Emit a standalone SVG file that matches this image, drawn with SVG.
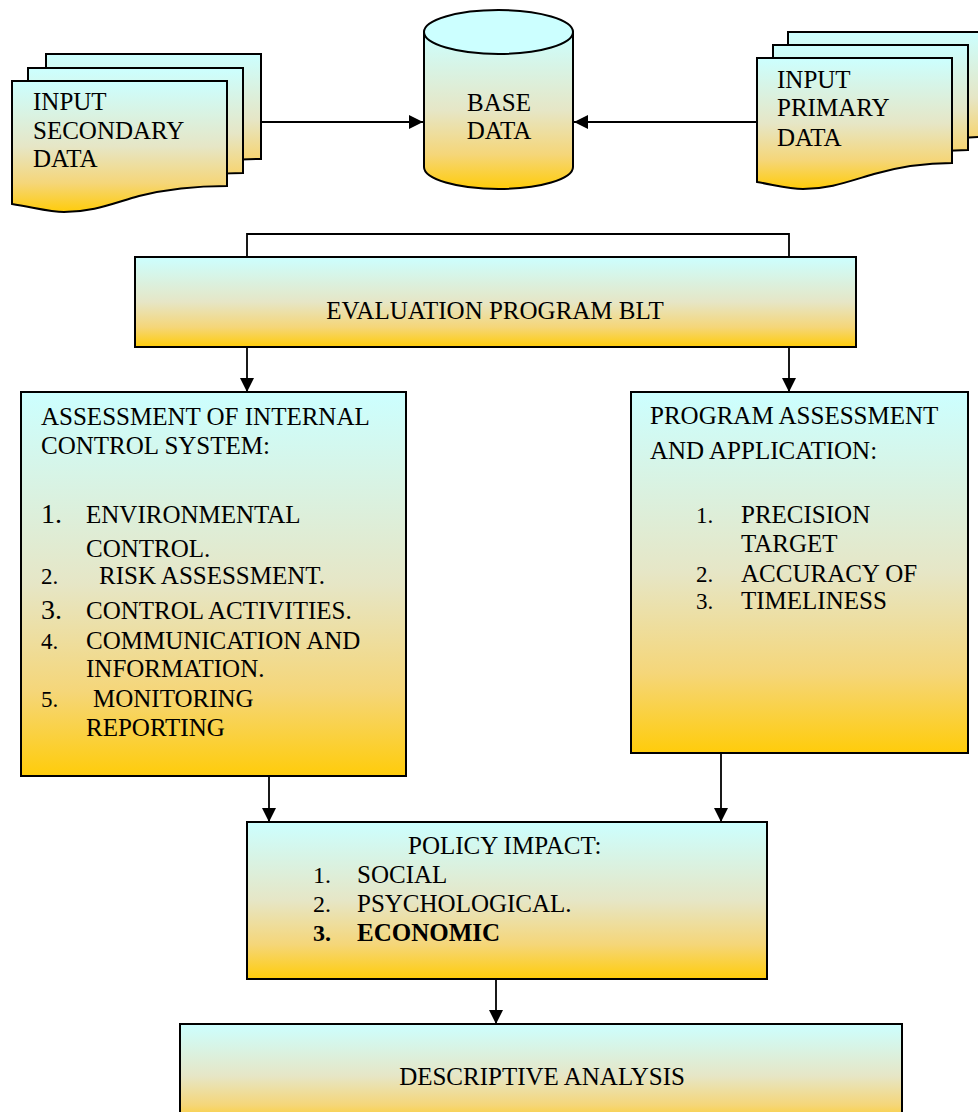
<svg xmlns="http://www.w3.org/2000/svg" width="978" height="1112" viewBox="0 0 978 1112">
<defs>
  <linearGradient id="g" x1="0" y1="0" x2="0" y2="1">
    <stop offset="0" stop-color="#CCFFFF"/>
    <stop offset="0.5" stop-color="#E6E6C6"/>
    <stop offset="0.78" stop-color="#F5D679"/>
    <stop offset="1" stop-color="#FFCC0A"/>
  </linearGradient>
  <marker id="ah" markerUnits="userSpaceOnUse" markerWidth="14" markerHeight="14" refX="14" refY="7" orient="auto">
    <path d="M0,0 L14,7 L0,14 z" fill="#000"/>
  </marker>
  <path id="docS" d="M0,0 H215 V105 C189,105 159,107 127,115 C99,123 81,131 52,131 C38,131 20,126 0,123 Z"/>
  <path id="docP" d="M0,0 H195 V105 C170,105 145,108 117,116 C90,124 72,131 46,131 C32,131 18,127 0,124 Z"/>
  <style>
    .shape{fill:url(#g);stroke:#000;stroke-width:2}
    .t{font-family:"Liberation Serif","Times New Roman",serif;font-size:25px;fill:#000}
    .n{font-family:"Liberation Serif","Times New Roman",serif;font-size:23px;fill:#000}
    .np{font-family:"Liberation Serif","Times New Roman",serif;font-size:24px;fill:#000}
    .nl{font-family:"Liberation Serif","Times New Roman",serif;font-size:28px;fill:#000}
    .c{text-anchor:middle}
    .b{font-weight:bold}
    .con{fill:none;stroke:#000;stroke-width:1.8}
  </style>
</defs>

<g id="secondary-data">
  <use href="#docS" class="shape" x="46" y="54"/>
  <use href="#docS" class="shape" x="28" y="68"/>
  <use href="#docS" class="shape" x="12" y="81"/>
  <text class="t" x="33" y="110">INPUT</text>
  <text class="t" x="33" y="139">SECONDARY</text>
  <text class="t" x="33" y="167">DATA</text>
</g>

<g id="base-data">
  <path class="shape" d="M424,32 V167 A74.5,22 0 0 0 573,167 V32 Z"/>
  <ellipse cx="498.5" cy="32" rx="74.5" ry="22" fill="#CCFFFF" stroke="#000" stroke-width="2"/>
  <text class="t c" x="499" y="111">BASE</text>
  <text class="t c" x="499" y="139">DATA</text>
</g>

<g id="primary-data">
  <use href="#docP" class="shape" x="788" y="32"/>
  <use href="#docP" class="shape" x="773" y="45"/>
  <use href="#docP" class="shape" x="757" y="58"/>
  <text class="t" x="777" y="88">INPUT</text>
  <text class="t" x="777" y="116">PRIMARY</text>
  <text class="t" x="777" y="146">DATA</text>
</g>

<g id="evaluation">
  <rect class="shape" x="135" y="257" width="721" height="90"/>
  <text class="t c" x="495" y="319">EVALUATION PROGRAM BLT</text>
</g>

<g id="internal-control">
  <rect class="shape" x="21" y="392" width="385" height="384"/>
  <text class="t" x="41" y="425">ASSESSMENT OF INTERNAL</text>
  <text class="t" x="41" y="454">CONTROL SYSTEM:</text>
  <text class="nl" x="41" y="523">1.</text>
  <text class="t" x="86" y="523">ENVIRONMENTAL</text>
  <text class="t" x="86" y="557">CONTROL.</text>
  <text class="n" x="41" y="584">2.</text>
  <text class="t" x="99" y="584">RISK ASSESSMENT.</text>
  <text class="nl" x="41" y="619">3.</text>
  <text class="t" x="86" y="619">CONTROL ACTIVITIES.</text>
  <text class="n" x="41" y="649">4.</text>
  <text class="t" x="86" y="649">COMMUNICATION AND</text>
  <text class="t" x="86" y="677">INFORMATION.</text>
  <text class="n" x="41" y="707">5.</text>
  <text class="t" x="93" y="707">MONITORING</text>
  <text class="t" x="86" y="736">REPORTING</text>
</g>

<g id="program-assessment">
  <rect class="shape" x="631" y="392" width="337" height="361"/>
  <text class="t" x="650" y="424">PROGRAM ASSESSMENT</text>
  <text class="t" x="650" y="459">AND APPLICATION:</text>
  <text class="n" x="696" y="523">1.</text>
  <text class="t" x="741" y="523">PRECISION</text>
  <text class="t" x="741" y="552">TARGET</text>
  <text class="n" x="696" y="582">2.</text>
  <text class="t" x="741" y="582">ACCURACY OF</text>
  <text class="n" x="696" y="609">3.</text>
  <text class="t" x="741" y="609">TIMELINESS</text>
</g>

<g id="policy-impact">
  <rect class="shape" x="247" y="822" width="520" height="157"/>
  <text class="t" x="408" y="854">POLICY IMPACT:</text>
  <text class="np" x="313" y="883">1.</text>
  <text class="t" x="357" y="883">SOCIAL</text>
  <text class="np" x="313" y="912">2.</text>
  <text class="t" x="357" y="912">PSYCHOLOGICAL.</text>
  <text class="np b" x="313" y="941">3.</text>
  <text class="t b" x="357" y="941">ECONOMIC</text>
</g>

<g id="descriptive-analysis">
  <rect class="shape" x="180" y="1024" width="722" height="104"/>
  <text class="t c" x="542" y="1085">DESCRIPTIVE ANALYSIS</text>
</g>

<g id="connectors">
  <path class="con" d="M261,122 H423" marker-end="url(#ah)"/>
  <path class="con" d="M757,122 H574" marker-end="url(#ah)"/>
  <path class="con" d="M247,257 V234 H789 V257"/>
  <path class="con" d="M247,347 V392" marker-end="url(#ah)"/>
  <path class="con" d="M789,347 V392" marker-end="url(#ah)"/>
  <path class="con" d="M269,776 V822" marker-end="url(#ah)"/>
  <path class="con" d="M721,753 V822" marker-end="url(#ah)"/>
  <path class="con" d="M496,979 V1024" marker-end="url(#ah)"/>
</g>
</svg>
